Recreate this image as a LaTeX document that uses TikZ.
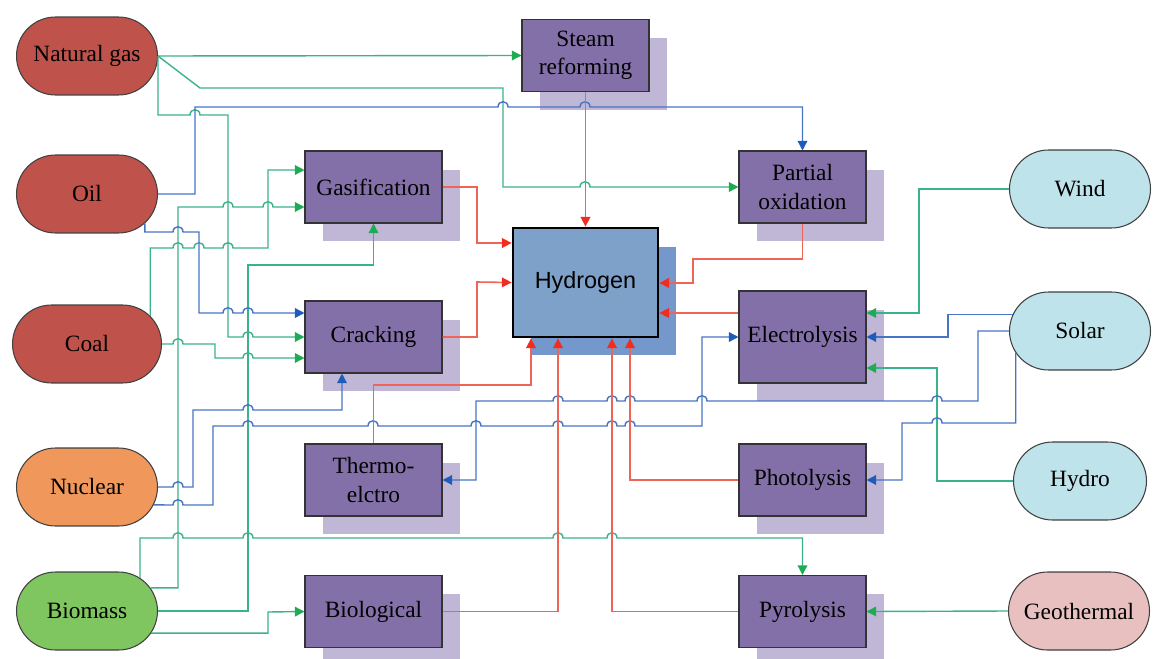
\documentclass[tikz,border=0pt]{standalone}
\usepackage{fontspec}
\setmainfont{Liberation Serif}
\newfontfamily\hfont{Liberation Sans}
\usetikzlibrary{arrows.meta,shapes.misc,shadows}

\definecolor{fossil}{RGB}{192,82,76}
\definecolor{nucfill}{RGB}{240,152,92}
\definecolor{biofill}{RGB}{128,198,96}
\definecolor{renfill}{RGB}{190,227,235}
\definecolor{geofill}{RGB}{232,192,192}
\definecolor{procfill}{RGB}{132,112,168}
\definecolor{procshade}{RGB}{192,183,215}
\definecolor{hfill}{RGB}{126,161,201}
\definecolor{hshade}{RGB}{116,152,203}
\definecolor{lgreen}{RGB}{58,178,140}
\definecolor{tgreen}{RGB}{30,172,82}
\definecolor{lblue}{RGB}{72,116,196}
\definecolor{tblue}{RGB}{30,92,186}
\definecolor{lred}{RGB}{238,100,86}
\definecolor{tred}{RGB}{240,45,30}

\newcommand{\lbl}{\fontsize{13.3}{16}\selectfont}

\tikzset{
  src/.style={rounded rectangle, draw=black!75, line width=0.6pt, minimum width=2.82cm,
    minimum height=1.56cm, inner sep=0pt, font=\lbl},
  proc/.style={rectangle, draw=black!80, line width=0.6pt, fill=procfill, minimum width=2.74cm,
    minimum height=1.44cm, inner sep=0pt, align=center, font=\lbl,
    drop shadow={shadow xshift=0.36cm, shadow yshift=-0.37cm, fill=procshade, opacity=1}},
  rproc/.style={proc, minimum width=2.54cm},
  gline/.style={draw=lgreen, line width=0.8pt, -{Triangle[length=5.5pt,width=5.5pt,color=tgreen]}},
  bline/.style={draw=lblue, line width=0.8pt, -{Triangle[length=5.5pt,width=5.5pt,color=tblue]}},
  rline/.style={draw=lred, line width=0.9pt, -{Triangle[length=5.5pt,width=5.5pt,color=tred]}},
  jump/.style={to path={.. controls +(0,-7) and +(0,-7) .. (\tikztotarget)}}
}

\begin{document}
\begin{tikzpicture}[x=0.02cm,y=-0.02cm]
\useasboundingbox (0,0) rectangle (1156,659);

\node[src, fill=fossil] (ng) at (87,56) {Natural gas};
\node[src, fill=fossil] (oil) at (87,194) {Oil};
\node[src, fill=fossil, minimum width=2.98cm] (coal) at (87,344) {Coal};
\node[src, fill=nucfill] (nuc) at (87,487) {Nuclear};
\node[src, fill=biofill] (bio) at (87,611) {Biomass};
\node[src, fill=renfill] (wind) at (1080,189) {Wind};
\node[src, fill=renfill] (solar) at (1080,331) {Solar};
\node[src, fill=renfill, minimum width=2.66cm] (hydro) at (1080,481) {Hydro};
\node[src, fill=geofill] (geo) at (1079,611) {Geothermal};

\node[rproc] (steam) at (585.5,55.5) {Steam\\reforming};
\node[proc] (gas) at (373.5,187) {Gasification};
\node[proc] (crack) at (373.5,337) {Cracking};
\node[proc] (thermo) at (373.5,480) {Thermo-\\elctro};
\node[proc] (biol) at (373.5,611.5) {Biological};
\node[rproc] (pox) at (802.5,187) {Partial\\oxidation};
\node[rproc, minimum height=1.84cm] (elec) at (802.5,337) {Electrolysis};
\node[rproc] (photo) at (802.5,480) {Photolysis};
\node[rproc] (pyro) at (802.5,611.5) {Pyrolysis};
\node[rectangle, draw=black, line width=1.6pt, fill=hfill, minimum width=2.9cm, minimum height=2.18cm,
  font=\hfont\lbl, drop shadow={shadow xshift=0.36cm, shadow yshift=-0.37cm, fill=hshade, opacity=1}]
  (h2) at (585.5,282.5) {Hydrogen};

\draw[gline] (ng.east) -- (steam.west);
\draw[gline] (ng.east) -- (200,88) -- (503,88) -- (503,187) -- (580,187) to[jump] (590,187) -- (pox.west);
\draw[gline] (ng.east) -- (158,115) -- (190,115) to[jump] (200,115) -- (228,115) -- (228,337)
  -- (243,337) to[jump] (253,337) -- (crack.west);
\draw[gline] (coal.24) |- (173,248) to[jump] (183,248) -- (194,248) to[jump] (204,248)
  -- (223,248) to[jump] (233,248) -- (268,248) |- (gas.west |- 0,170);
\draw[gline] (coal.east) -- (173,344) to[jump] (183,344) -- (215,344) |- (243,358) to[jump] (253,358)
  -- (crack.west |- 0,358);
\draw[gline] (bio.20) -| (178,207) -- (223,207) to[jump] (233,207) -- (263,207) to[jump] (273,207)
  -- (gas.west |- 0,207);
\draw[gline] (bio.east) -| (248,265) -| (gas.south);
\draw[gline] (bio.-19) -| (268,612) -- (biol.west);
\draw[gline] (bio.32) |- (173,538) to[jump] (183,538) -- (243,538) to[jump] (253,538)
  -- (553,538) to[jump] (563,538) -- (607,538) to[jump] (617,538) -| (pyro.north);
\draw[gline] (wind.west) -| (919,313) -- (elec.east |- 0,313);
\draw[gline] (hydro.west) -| (937,368) -- (elec.east |- 0,368);
\draw[gline] (geo.west) -- (pyro.east);

\draw[bline] (oil.east) -| (195,107) -- (498,107) to[jump] (508,107) -- (580,107) to[jump] (590,107)
  -| (pox.north);
\draw[bline] (oil.-27) |- (173,232) to[jump] (183,232) -- (199,232) |- (223,313) to[jump] (233,313)
  -- (243,313) to[jump] (253,313) -- (crack.west |- 0,313);
\draw[bline] (nuc.east) -- (173,487) to[jump] (183,487) -- (193,487) |- (243,410) to[jump] (253,410)
  -| (crack.south -| 342,0);
\draw[bline] (nuc.-15) -- (173,505) to[jump] (183,505) -- (213,505) |- (243,426) to[jump] (253,426)
  -- (368,426) to[jump] (378,426) -- (471,426) to[jump] (481,426) -- (553,426) to[jump] (563,426)
  -- (607,426) to[jump] (617,426) -- (625,426) to[jump] (635,426) -- (702,426) |- (elec.west);
\draw[bline] (solar.166) -| (948,337) -- (elec.east);
\draw[bline] (solar.west) -| (978,401) -- (942,401) to[jump] (932,401) -- (707,401) to[jump] (697,401)
  -- (635,401) to[jump] (625,401) -- (617,401) to[jump] (607,401) -- (563,401) to[jump] (553,401)
  -- (476,401) |- (thermo.east);
\draw[bline] (solar.199) |- (942,423) to[jump] (932,423) -- (902,423) |- (photo.east);

\draw[rline] (steam.south) -- (h2.north);
\draw[rline] (gas.east) -| (477,243) -- (h2.west |- 0,243);
\draw[rline] (crack.east) -| (477,282) -- (h2.west);
\draw[rline] (thermo.north) |- (531,385) -- (h2.south -| 531,0);
\draw[rline] (biol.east) -| (h2.south -| 558,0);
\draw[rline] (pyro.west) -| (h2.south -| 612,0);
\draw[rline] (photo.west) -| (h2.south -| 630,0);
\draw[rline] (pox.south) |- (693,259) |- (h2.east |- 0,283);
\draw[rline] (elec.west |- 0,313) -- (h2.east |- 0,313);

\end{tikzpicture}
\end{document}
